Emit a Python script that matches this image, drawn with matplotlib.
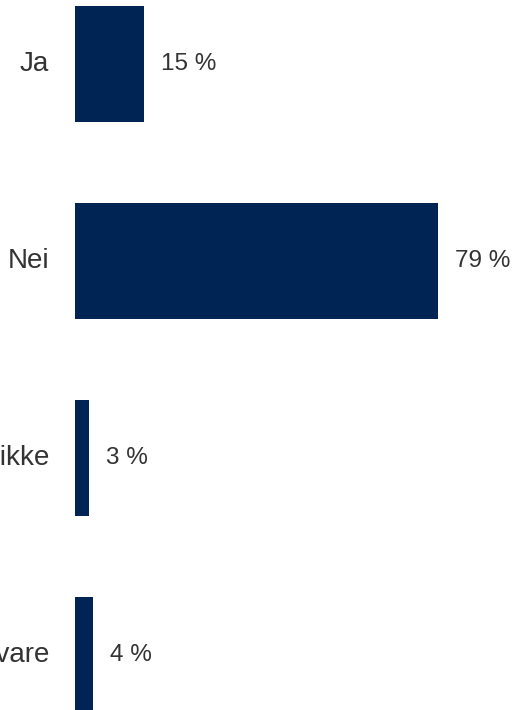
import matplotlib
matplotlib.use("Agg")
import matplotlib.pyplot as plt

plt.rcParams['font.family'] = ['Liberation Sans', 'DejaVu Sans']

categories = ["Ja", "Nei", "Vet ikke", "Vil ikke svare"]
values = [15, 79, 3, 4]

BAR_COLOR = "#002454"
TEXT_COLOR = "#333333"

fig = plt.figure(figsize=(5.18, 7.10), dpi=100)
ax = fig.add_axes([75 / 518, 0, 443 / 518, 1])

ypos = list(range(len(categories)))
ax.barh(ypos, values, height=0.584, color=BAR_COLOR)

ax.set_xlim(0, 443 / 4.6)
ax.set_ylim(710 / 197 - 64 / 197, -64 / 197)

for y, v, c in zip(ypos, values, categories):
    ax.annotate(f"{v} %", (v, y), xytext=(12.2, 0), textcoords="offset points",
                ha="left", va="center", fontsize=17.5, color=TEXT_COLOR)
    ax.annotate(c, (0, y), xytext=(-18.7, 0), textcoords="offset points",
                ha="right", va="center", fontsize=20, color=TEXT_COLOR,
                annotation_clip=False)

ax.axis("off")
fig.savefig("out.png", dpi=100)
